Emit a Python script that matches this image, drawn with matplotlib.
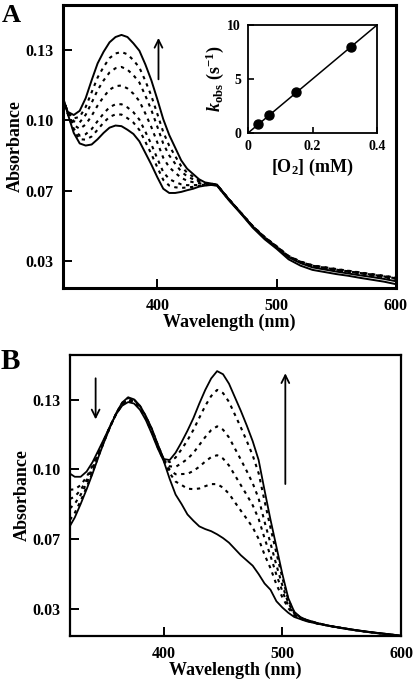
import matplotlib
matplotlib.use("Agg")
import matplotlib.pyplot as plt

plt.rcParams['font.family'] = ['Liberation Serif', 'DejaVu Serif']
plt.rcParams['font.weight'] = 'bold'
plt.rcParams['mathtext.fontset'] = 'custom'
plt.rcParams['mathtext.rm'] = 'Liberation Serif:bold'
plt.rcParams['mathtext.it'] = 'Liberation Serif:bold:italic'

# ---------------- Panel A data ----------------
wl_a = [321, 325, 330, 335, 340, 345, 350, 355, 360, 365, 370, 375, 380, 385, 390,
        395, 400, 405, 410, 415, 420, 425, 430, 435, 440, 445, 450,
        460, 470, 480, 490, 500, 510, 520, 530, 540, 550, 560, 570, 580, 590, 600]

a_initial = [0.111, 0.103, 0.094, 0.089, 0.088, 0.0885, 0.091, 0.094, 0.0965, 0.0975, 0.0972,
             0.0955, 0.0935, 0.090, 0.0845, 0.079, 0.073, 0.0675, 0.0655, 0.0655, 0.066,
             0.0668, 0.0675, 0.0685, 0.069, 0.0693, 0.069,
             0.062, 0.0557, 0.049, 0.0435, 0.039, 0.034, 0.031, 0.029, 0.028, 0.027,
             0.0262, 0.0252, 0.0243, 0.0234, 0.0222]
a_d1 = [0.1109, 0.1031, 0.0951, 0.0910, 0.0908, 0.0923, 0.0955, 0.0989, 0.1016, 0.1028, 0.1027,
        0.1010, 0.0989, 0.0954, 0.0898, 0.0840, 0.0777, 0.0717, 0.0690, 0.0682, 0.0679,
        0.0681, 0.0684, 0.0689, 0.0692, 0.0694, 0.0691,
        0.0623, 0.0560, 0.0495, 0.0442, 0.0398, 0.0352, 0.0325, 0.0307, 0.0297, 0.0288,
        0.0280, 0.0271, 0.0263, 0.0255, 0.0245]
a_d2 = [0.1108, 0.1032, 0.0960, 0.0927, 0.0934, 0.0958, 0.0996, 0.1032, 0.1062, 0.1076, 0.1076,
        0.1061, 0.1038, 0.1003, 0.0946, 0.0886, 0.0819, 0.0754, 0.0721, 0.0707, 0.0696,
        0.0692, 0.0692, 0.0693, 0.0694, 0.0695, 0.0691,
        0.0624, 0.0561, 0.0497, 0.0444, 0.0400, 0.0354, 0.0328, 0.0310, 0.0300, 0.0291,
        0.0283, 0.0275, 0.0267, 0.0259, 0.0250]
a_d3 = [0.1106, 0.1034, 0.0978, 0.0959, 0.0980, 0.1021, 0.1070, 0.1111, 0.1145, 0.1162, 0.1165,
        0.1151, 0.1126, 0.1091, 0.1032, 0.0968, 0.0895, 0.0822, 0.0777, 0.0751, 0.0727,
        0.0713, 0.0706, 0.0701, 0.0697, 0.0696, 0.0692,
        0.0626, 0.0562, 0.0498, 0.0446, 0.0402, 0.0356, 0.0330, 0.0312, 0.0303, 0.0294,
        0.0286, 0.0278, 0.0270, 0.0262, 0.0253]
a_d4 = [0.1104, 0.1036, 0.0995, 0.0990, 0.1026, 0.1083, 0.1143, 0.1189, 0.1227, 0.1247, 0.1253,
        0.1240, 0.1214, 0.1179, 0.1117, 0.1049, 0.0970, 0.0889, 0.0833, 0.0794, 0.0757,
        0.0734, 0.0720, 0.0708, 0.0700, 0.0698, 0.0693,
        0.0625, 0.0561, 0.0497, 0.0445, 0.0401, 0.0355, 0.0329, 0.0311, 0.0302, 0.0293,
        0.0285, 0.0277, 0.0269, 0.0261, 0.0252]
a_d5 = [0.1102, 0.1038, 0.1009, 0.1016, 0.1063, 0.1133, 0.1203, 0.1253, 0.1295, 0.1317, 0.1324,
        0.1313, 0.1285, 0.1250, 0.1187, 0.1116, 0.1031, 0.0944, 0.0879, 0.0830, 0.0782,
        0.0751, 0.0732, 0.0713, 0.0702, 0.0699, 0.0694,
        0.0625, 0.0561, 0.0496, 0.0444, 0.0400, 0.0353, 0.0327, 0.0308, 0.0299, 0.0290,
        0.0282, 0.0274, 0.0265, 0.0257, 0.0248]
a_final = [0.110, 0.104, 0.1025, 0.1045, 0.1105, 0.119, 0.127, 0.1325, 0.137, 0.1395, 0.1405,
           0.1395, 0.1365, 0.133, 0.1265, 0.119, 0.110, 0.1005, 0.093, 0.087, 0.081,
           0.077, 0.0745, 0.072, 0.0705, 0.0700, 0.0695,
           0.0625, 0.056, 0.0495, 0.0442, 0.0398, 0.0350, 0.0322, 0.0302, 0.0292, 0.0282,
           0.0273, 0.0264, 0.0256, 0.0247, 0.0236]

# inset: kobs vs [O2]
o2_mM = [0.03, 0.065, 0.15, 0.32]
kobs = [0.8, 1.7, 3.8, 8.0]
fit_x = [0.0, 0.4]
fit_y = [0.0, 10.0]

# ---------------- Panel B data ----------------
wl_b = [321, 325, 330, 335, 340, 345, 350, 355, 360, 365, 370, 375, 380, 385, 390,
        395, 400, 405, 410, 415, 420, 425, 430, 435, 440, 445, 450, 455, 460, 465,
        470, 475, 480, 485, 490, 495, 500, 505, 510, 515, 520,
        530, 540, 550, 560, 570, 580, 590, 600]

b_initial = [0.098, 0.0965, 0.0965, 0.0990, 0.1035, 0.1092, 0.1150, 0.1210, 0.1265, 0.1305,
             0.1322, 0.1315, 0.1285, 0.1235, 0.1170, 0.1100, 0.1040, 0.0955, 0.0880, 0.0835,
             0.0785, 0.0755, 0.0728, 0.0715, 0.0705, 0.0690, 0.0672, 0.0650, 0.0620, 0.0590,
             0.0565, 0.0540, 0.0500, 0.0455, 0.0425, 0.0370, 0.0340, 0.0315, 0.0295, 0.0285,
             0.0275, 0.0262, 0.0252, 0.0242, 0.0233, 0.0225, 0.0218, 0.0212, 0.0205]
b_d1 = [0.0903, 0.0905, 0.0925, 0.0964, 0.1018, 0.1082, 0.1145, 0.1208, 0.1267, 0.1310,
        0.1329, 0.1321, 0.1291, 0.1241, 0.1178, 0.1106, 0.1043, 0.0983, 0.0942, 0.0926,
        0.0908, 0.0906, 0.0909, 0.0920, 0.0930, 0.0930, 0.0913, 0.0884, 0.0843, 0.0803,
        0.0764, 0.0723, 0.0668, 0.0592, 0.0528, 0.0450, 0.0389, 0.0337, 0.0303, 0.0288,
        0.0277, 0.0263, 0.0252, 0.0242, 0.0233, 0.0225, 0.0218, 0.0212, 0.0205]
b_d2 = [0.0859, 0.0870, 0.0902, 0.0949, 0.1008, 0.1076, 0.1143, 0.1208, 0.1267, 0.1312,
        0.1333, 0.1325, 0.1295, 0.1245, 0.1182, 0.1110, 0.1045, 0.0999, 0.0977, 0.0978,
        0.0979, 0.0993, 0.1013, 0.1038, 0.1059, 0.1068, 0.1052, 0.1019, 0.0972, 0.0925,
        0.0878, 0.0829, 0.0764, 0.0671, 0.0587, 0.0496, 0.0418, 0.0349, 0.0307, 0.0290,
        0.0278, 0.0263, 0.0252, 0.0242, 0.0233, 0.0225, 0.0218, 0.0212, 0.0205]
b_d3 = [0.0814, 0.0836, 0.0879, 0.0934, 0.0999, 0.1071, 0.1140, 0.1207, 0.1268, 0.1315,
        0.1337, 0.1328, 0.1298, 0.1248, 0.1187, 0.1113, 0.1047, 0.1015, 0.1012, 0.1030,
        0.1050, 0.1079, 0.1117, 0.1155, 0.1188, 0.1206, 0.1190, 0.1153, 0.1100, 0.1047,
        0.0992, 0.0934, 0.0861, 0.0750, 0.0647, 0.0542, 0.0446, 0.0361, 0.0312, 0.0292,
        0.0280, 0.0264, 0.0252, 0.0242, 0.0233, 0.0225, 0.0218, 0.0212, 0.0205]
b_d4 = [0.0759, 0.0792, 0.0850, 0.0915, 0.0986, 0.1064, 0.1137, 0.1206, 0.1269, 0.1318,
        0.1342, 0.1333, 0.1303, 0.1253, 0.1192, 0.1118, 0.1049, 0.1035, 0.1057, 0.1096,
        0.1139, 0.1189, 0.1247, 0.1304, 0.1351, 0.1380, 0.1365, 0.1323, 0.1262, 0.1201,
        0.1136, 0.1067, 0.0982, 0.0849, 0.0721, 0.0600, 0.0482, 0.0377, 0.0317, 0.0294,
        0.0281, 0.0265, 0.0252, 0.0242, 0.0233, 0.0225, 0.0218, 0.0212, 0.0205]
b_final = [0.0730, 0.0770, 0.0835, 0.0905, 0.0980, 0.1060, 0.1135, 0.1205, 0.1270, 0.1320,
           0.1345, 0.1335, 0.1305, 0.1255, 0.1195, 0.1120, 0.1050, 0.1045, 0.1080, 0.1130,
           0.1185, 0.1245, 0.1315, 0.1380, 0.1435, 0.1470, 0.1455, 0.1410, 0.1345, 0.1280,
           0.1210, 0.1135, 0.1045, 0.0900, 0.0760, 0.0630, 0.0500, 0.0385, 0.0320, 0.0295,
           0.0282, 0.0265, 0.0252, 0.0243, 0.0234, 0.0226, 0.0219, 0.0212, 0.0205]

# axis ticks
x_ticks = [400, 500, 600]
y_ticks = [1 / 30, 2 / 30, 3 / 30, 4 / 30]
y_tick_labels = ['0.03', '0.07', '0.10', '0.13']
inset_xticks = [0, 0.2, 0.4]
inset_xtick_labels = ['0', '0.2', '0.4']
inset_yticks = [0, 5, 10]

W, H = 416, 685
fig = plt.figure(figsize=(W / 100, H / 100), dpi=100)


def box(l, t, r, b):
    return [l / W, 1 - b / H, (r - l) / W, (b - t) / H]


dot = (0, (1.6, 2.2))


def style_main(ax, spine_w):
    ax.set_xlim(321, 600)
    ax.set_ylim(0.0204, 0.1547)
    ax.set_xticks(x_ticks)
    ax.set_xticklabels([str(t) for t in x_ticks])
    ax.set_yticks(y_ticks)
    ax.set_yticklabels(y_tick_labels)
    ax.tick_params(direction='in', length=6.5, width=1.4, labelsize=11.5, pad=7)
    for s in ax.spines.values():
        s.set_linewidth(spine_w)
    for lab in ax.get_xticklabels() + ax.get_yticklabels():
        lab.set_fontweight('bold')
    ax.set_xlabel('Wavelength (nm)', fontsize=13, fontweight='bold', labelpad=0)
    ax.set_ylabel('Absorbance', fontsize=13, fontweight='bold', labelpad=1)


# ---------------- Panel A ----------------
axA = fig.add_axes(box(63, 5, 396, 288))
axA.plot(wl_a, a_initial, color='black', lw=1.4)
for d in [a_d1, a_d2, a_d3, a_d4, a_d5]:
    axA.plot(wl_a, d, color='black', lw=1.5, linestyle=dot)
axA.plot(wl_a, a_final, color='black', lw=1.4)
style_main(axA, 2.2)
axA.annotate('', xy=(401, 0.1404), xytext=(401, 0.1181),
             arrowprops=dict(arrowstyle='->', color='black', lw=1.3, mutation_scale=14))
fig.text(2 / W, 1 - 4 / H, 'A', fontsize=19, fontweight='bold', va='top', ha='left')

# inset
axI = fig.add_axes(box(248, 25, 377, 133))
axI.plot(fit_x, fit_y, color='black', lw=1.1)
axI.plot(o2_mM, kobs, 'o', color='black', markersize=6.5)
axI.set_xlim(0, 0.4)
axI.set_ylim(0, 10)
axI.set_xticks(inset_xticks)
axI.set_xticklabels(inset_xtick_labels)
axI.set_yticks(inset_yticks)
axI.tick_params(direction='in', length=4, width=1.2, labelsize=10, pad=5)
for s in axI.spines.values():
    s.set_linewidth(1.3)
axI.set_xlabel('[O$_2$] (mM)', fontsize=13, fontweight='bold', labelpad=3)
axI.set_ylabel('$k$$_{\\mathrm{obs}}$ (s$^{-1}$)', fontsize=13, fontweight='bold', labelpad=1)

# ---------------- Panel B ----------------
axB = fig.add_axes(box(70, 355, 401, 636))
axB.plot(wl_b, b_initial, color='black', lw=1.3)
for d in [b_d1, b_d2, b_d3, b_d4]:
    axB.plot(wl_b, d, color='black', lw=1.5, linestyle=dot)
axB.plot(wl_b, b_final, color='black', lw=1.3)
style_main(axB, 1.6)
axB.annotate('', xy=(342.6, 0.1226), xytext=(342.6, 0.1449),
             arrowprops=dict(arrowstyle='->', color='black', lw=1.3, mutation_scale=14))
axB.annotate('', xy=(502.5, 0.1473), xytext=(502.5, 0.0917),
             arrowprops=dict(arrowstyle='->', color='black', lw=1.3, mutation_scale=14))
fig.text(1 / W, 1 - 348 / H, 'B', fontsize=21, fontweight='bold', va='top', ha='left')

fig.savefig('out.png', dpi=100)
